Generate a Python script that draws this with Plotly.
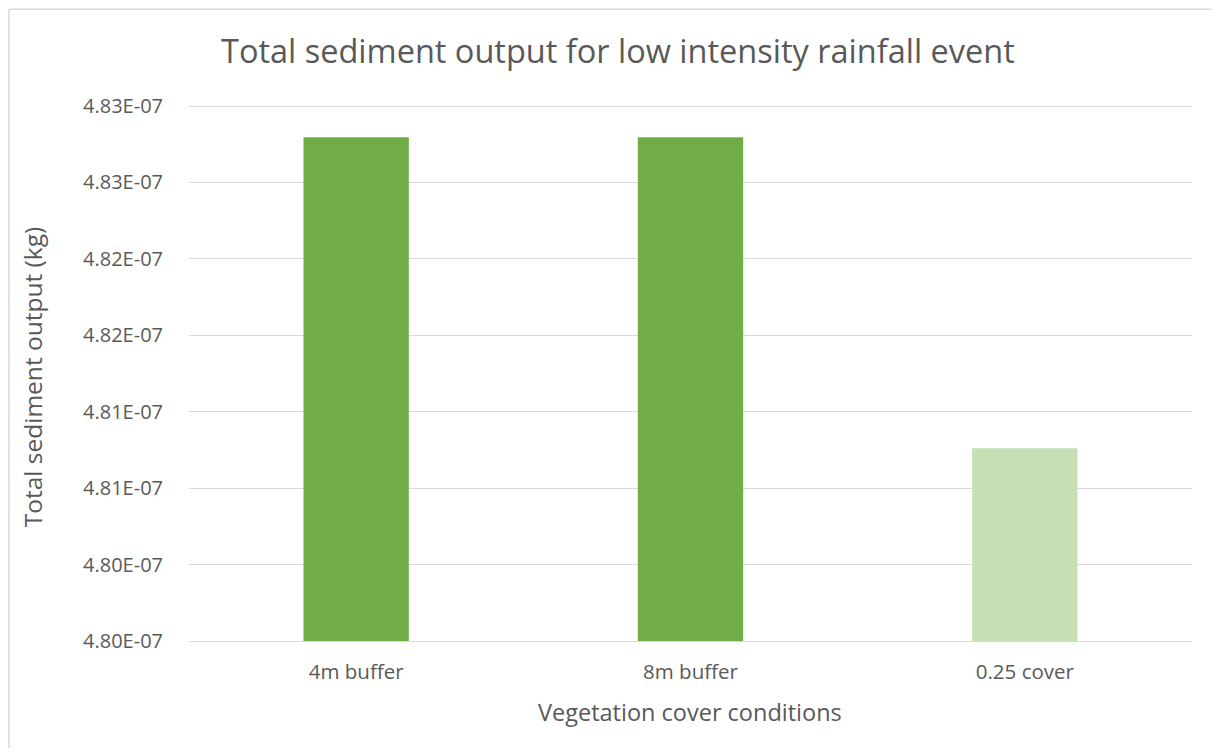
import plotly.graph_objects as go

categories = ["4m buffer", "8m buffer", "0.25 cover"]
values = [4.83296e-07, 4.83296e-07, 4.81261e-07]
bar_colors = ["#70ad47", "#70ad47", "#c5e0b4"]
tick_vals = [4.800e-07, 4.805e-07, 4.810e-07, 4.815e-07, 4.820e-07, 4.825e-07, 4.830e-07, 4.835e-07]
tick_text = ["4.80E-07", "4.80E-07", "4.81E-07", "4.81E-07", "4.82E-07", "4.82E-07", "4.83E-07", "4.83E-07"]
y_min, y_max = 4.800e-07, 4.835e-07

title_text = "Total sediment output for low intensity rainfall event"
x_title = "Vegetation cover conditions"
y_title = "Total sediment output (kg)"

FONT = "Open Sans"
GREY = "#595959"
OFF = 8  # page body margin offset

# figure sized to fit inside the 1220x756 window including the body margin
W, H = 1220 - 2 * OFF, 756 - 2 * OFF
# gridline extremes in screenshot pixels
GX0, GX1, GY_TOP, GY_BOT = 189, 1192, 105.7, 640.7
PAD = 2.0  # pixels of padding so edge gridlines are drawn
per_px = (y_max - y_min) / (GY_BOT - GY_TOP)
PX0, PX1 = GX0, GX1
PY0, PY1 = GY_TOP - PAD, GY_BOT + PAD
L = PX0 - OFF
T = PY0 - OFF
R = W - (PX1 - OFF)
B = H - (PY1 - OFF)
pw, ph = PX1 - PX0, PY1 - PY0

def px_x(x):
    return (x - PX0) / pw

def px_y(y):
    return (PY1 - y) / ph

fig = go.Figure()
fig.add_trace(go.Bar(
    x=categories, y=[v - y_min for v in values], base=y_min,
    marker=dict(color=bar_colors, line=dict(width=0)),
    width=0.315,
))

fig.update_layout(
    width=W, height=H,
    margin=dict(l=L, r=R, t=T, b=B),
    paper_bgcolor="white", plot_bgcolor="white",
    showlegend=False,
    font=dict(family=FONT, color=GREY, size=16),
    xaxis=dict(showgrid=False, showline=False, ticks="outside", ticklen=10, tickcolor="rgba(0,0,0,0)",
               tickfont=dict(size=20.5, color=GREY, family=FONT)),
    yaxis=dict(range=[y_min - PAD * per_px, y_max + PAD * per_px], tickvals=tick_vals, ticktext=tick_text,
               showgrid=True, gridcolor="#d9d9d9", gridwidth=1.3, zeroline=False,
               showline=False, ticks="outside", ticklen=21, tickcolor="rgba(0,0,0,0)",
               tickfont=dict(size=20, color=GREY, family=FONT)),
    annotations=[
        dict(text=title_text, x=px_x(618), y=px_y(50), xref="paper", yref="paper",
             showarrow=False, font=dict(size=32.5, color=GREY, family=FONT), xanchor="center", yanchor="middle"),
        dict(text=x_title, x=px_x(690), y=px_y(712), xref="paper", yref="paper",
             showarrow=False, font=dict(size=23.5, color=GREY, family=FONT), xanchor="center", yanchor="middle"),
        dict(text=y_title, x=px_x(32), y=px_y(377), xref="paper", yref="paper", textangle=-90,
             showarrow=False, font=dict(size=24.5, color=GREY, family=FONT), xanchor="center", yanchor="middle"),
    ],
    shapes=[
        dict(type="line", xref="paper", yref="paper", x0=px_x(9), x1=px_x(9), y0=px_y(9), y1=px_y(770),
             line=dict(color="#d9d9d9", width=1.5)),
        dict(type="line", xref="paper", yref="paper", x0=px_x(9), x1=px_x(1240), y0=px_y(9), y1=px_y(9),
             line=dict(color="#d9d9d9", width=1.5)),
    ],
)

fig.write_html("out.html")
